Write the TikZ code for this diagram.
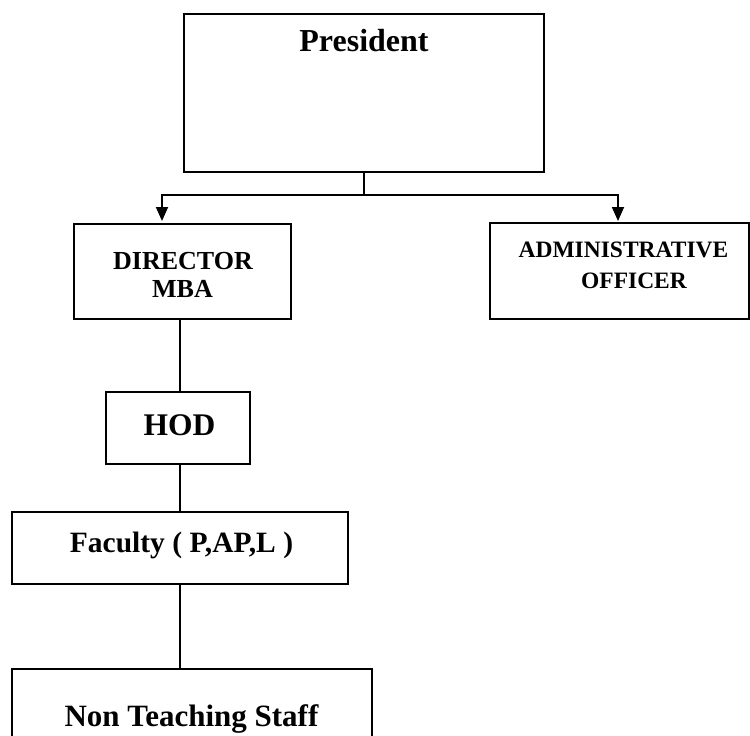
\documentclass[tikz,border=0pt]{standalone}
\usepackage{fontspec}
\setmainfont{Liberation Serif}
\usetikzlibrary{arrows.meta}
\tikzset{
  boxnode/.style={draw, line width=1.8pt, rectangle, inner sep=0pt},
  txt/.style={anchor=base, inner sep=0pt, font=\bfseries},
  conn/.style={line width=1.8pt},
  arr/.style={line width=1.8pt, -{Triangle[length=14pt,width=12pt]}}
}
\begin{document}
\begin{tikzpicture}[x=1pt,y=-1pt]
\clip (0,0) rectangle (750,736);
\fill[white] (0,0) rectangle (750,736);
% boxes
\node[boxnode, minimum width=360pt, minimum height=158pt] (pres) at (364,93) {};
\node[boxnode, minimum width=217pt, minimum height=95pt] (dir) at (182.5,271.5) {};
\node[boxnode, minimum width=259pt, minimum height=96pt] (adm) at (619.5,271) {};
\node[boxnode, minimum width=144pt, minimum height=72pt] (hod) at (178,428) {};
\node[boxnode, minimum width=336pt, minimum height=72pt] (fac) at (180,548) {};
\node[boxnode, minimum width=360pt, minimum height=90pt] (nts) at (192,714) {};
% texts
\node[txt] (tpres) at (364,51) {\fontsize{32}{38}\selectfont President};
\node[txt] (tdir1) at (183,269) {\fontsize{26}{30}\selectfont DIRECTOR};
\node[txt] (tdir2) at (182.5,297) {\fontsize{26}{30}\selectfont MBA};
\node[txt] (tadm1) at (623.5,257) {\fontsize{23.5}{28}\selectfont ADMINISTRATIVE};
\node[txt] (tadm2) at (634,288) {\fontsize{23.5}{28}\selectfont OFFICER};
\node[txt] (thod) at (179.5,435) {\fontsize{31.5}{38}\selectfont HOD};
\node[txt] (tfac) at (181.5,552.5) {\fontsize{29.5}{36}\selectfont Faculty ( P,AP,L )};
\node[txt] (tnts) at (191.5,726) {\fontsize{31}{38}\selectfont Non Teaching Staff};
% connectors
\coordinate (j) at (364,195);
\coordinate (jl) at (162,195);
\coordinate (jr) at (618,195);
\coordinate (al) at (162,221);
\coordinate (ar) at (618,221);
\draw[arr] (pres.south) -- (j) -- (jl) -- (al);
\draw[arr] (j) -- (jr) -- (ar);
\draw[conn] (fac.north |- dir.south) -- (fac.north |- hod.north);
\draw[conn] (fac.north |- hod.south) -- (fac.north);
\draw[conn] (fac.south) -- (fac.south |- nts.north);
\end{tikzpicture}
\end{document}
